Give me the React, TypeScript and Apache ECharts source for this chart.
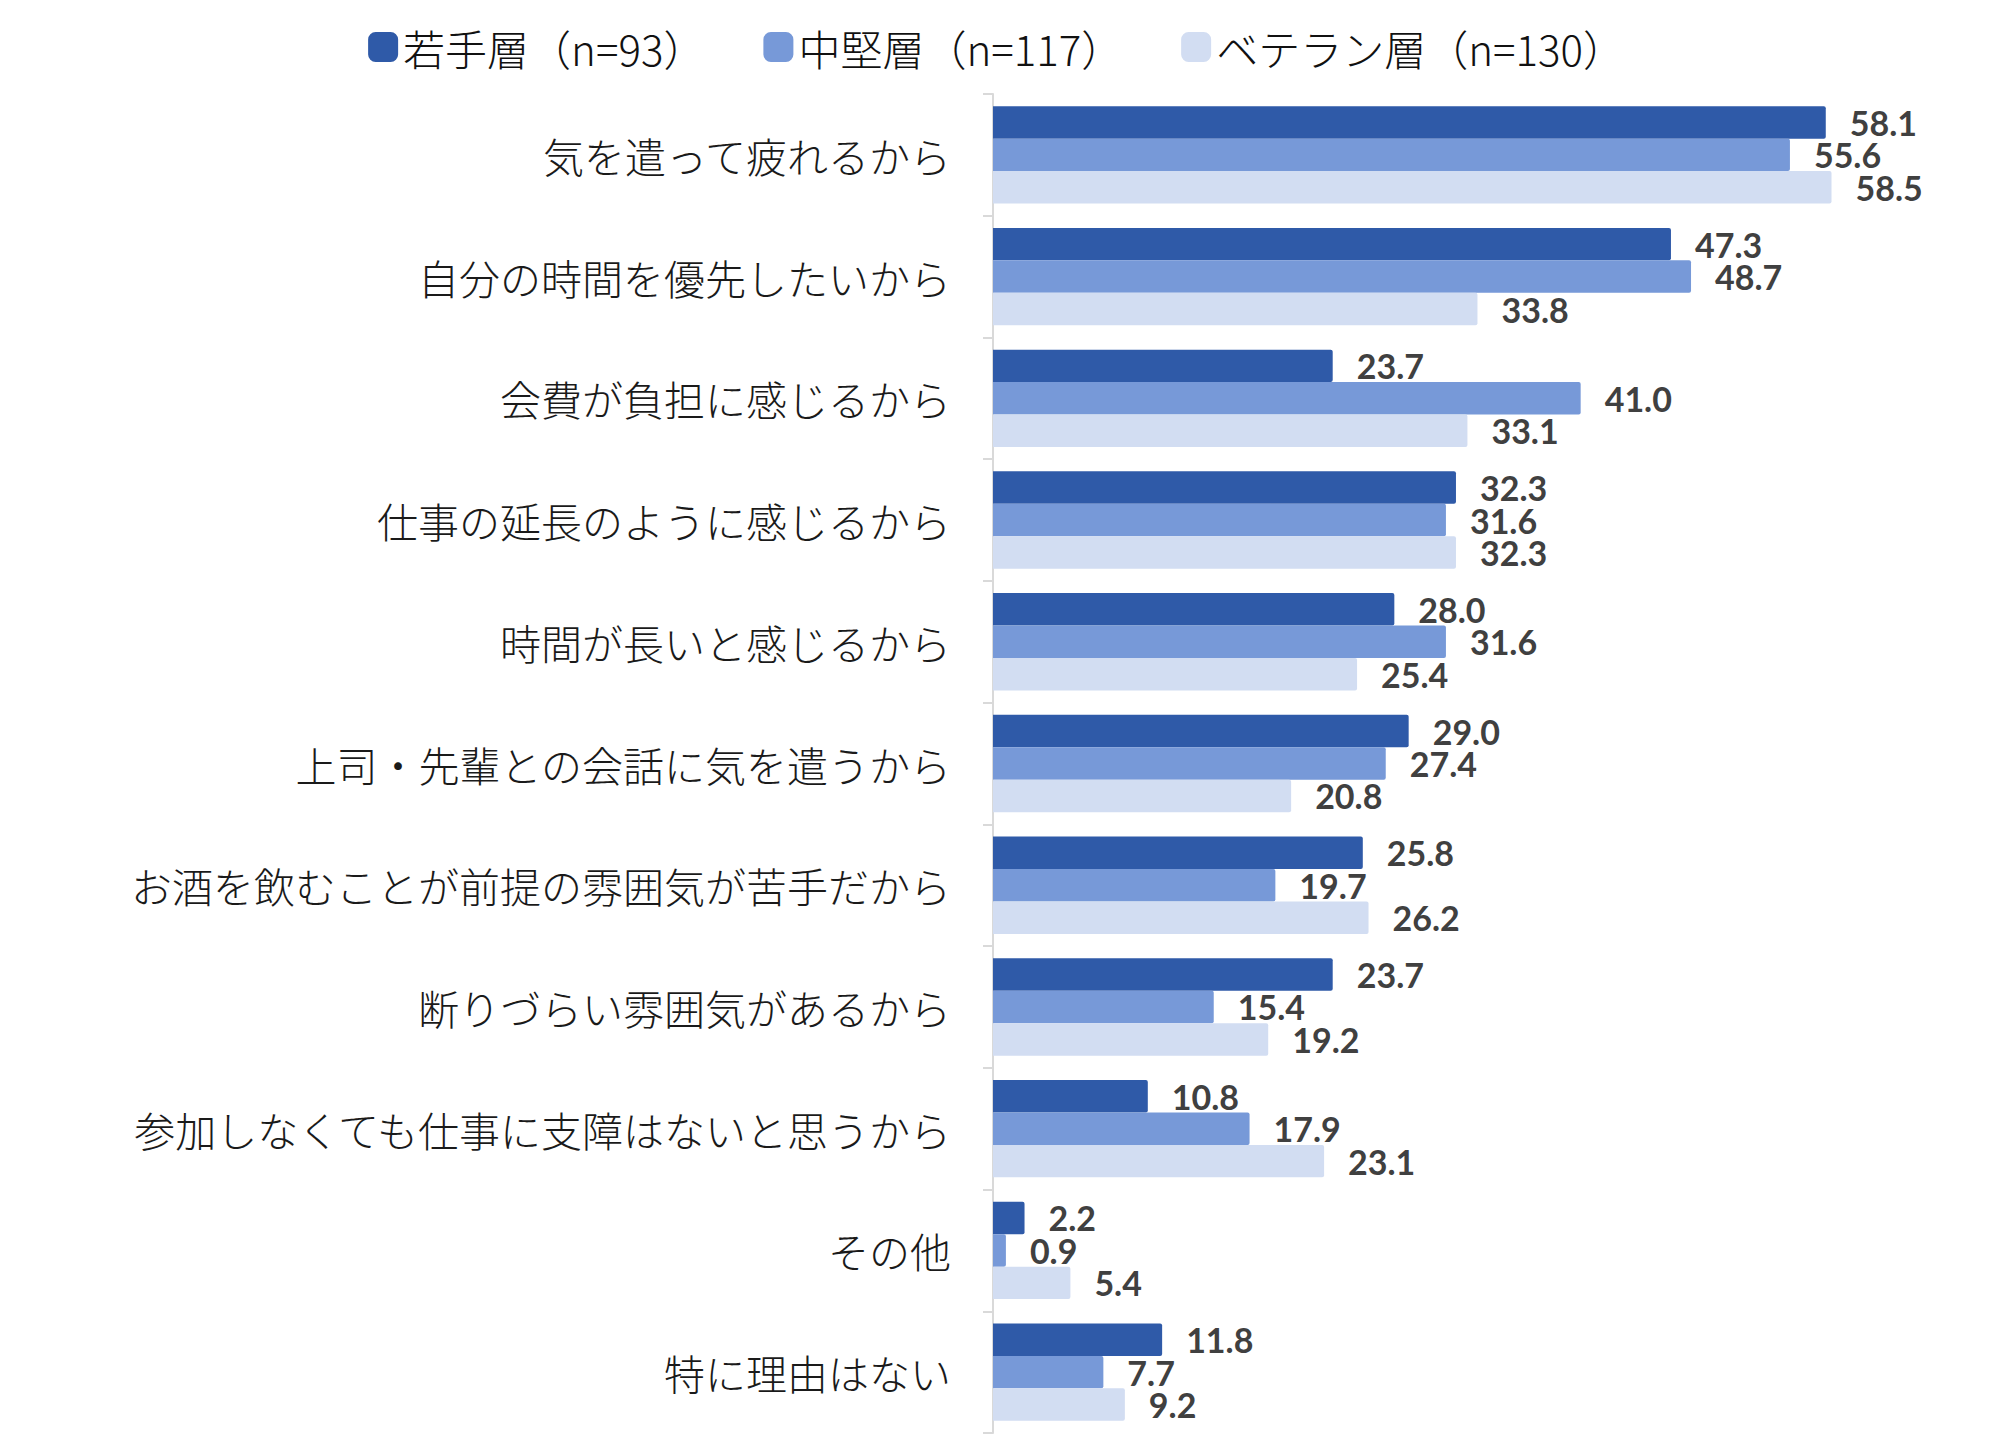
import React, { useEffect, useRef } from "react";
import * as echarts from "echarts";

const categories = [
  "気を遣って疲れるから",
  "自分の時間を優先したいから",
  "会費が負担に感じるから",
  "仕事の延長のように感じるから",
  "時間が長いと感じるから",
  "上司・先輩との会話に気を遣うから",
  "お酒を飲むことが前提の雰囲気が苦手だから",
  "断りづらい雰囲気があるから",
  "参加しなくても仕事に支障はないと思うから",
  "その他",
  "特に理由はない",
];

const seriesNames = ["若手層（n=93）", "中堅層（n=117）", "ベテラン層（n=130）"];

const youngValues = [58.1, 47.3, 23.7, 32.3, 28.0, 29.0, 25.8, 23.7, 10.8, 2.2, 11.8];
const midValues = [55.6, 48.7, 41.0, 31.6, 31.6, 27.4, 19.7, 15.4, 17.9, 0.9, 7.7];
const veteranValues = [58.5, 33.8, 33.1, 32.3, 25.4, 20.8, 26.2, 19.2, 23.1, 5.4, 9.2];

const colors = ["#2F5AA8", "#7799D8", "#D2DDF2"];

export default function App() {
  const ref = useRef<HTMLDivElement>(null);
  useEffect(() => {
    if (!ref.current) return;
    const chart = echarts.init(ref.current, null, { renderer: "svg" });
    const allValues = [youngValues, midValues, veteranValues];
    chart.setOption({
      animation: false,
      backgroundColor: "#ffffff",
      legend: {
        top: 20,
        left: "center",
        itemWidth: 30,
        itemHeight: 30,
        itemGap: 58,
        icon: "roundRect",
        textStyle: {
          fontFamily: "'Noto Sans CJK JP', sans-serif",
          fontSize: 42,
          fontWeight: 300,
          color: "#111111",
          lineHeight: 44,
        },
        data: seriesNames,
      },
      grid: {
        left: 993,
        right: 140,
        top: 94,
        bottom: 2,
        containLabel: false,
      },
      xAxis: {
        type: "value",
        min: 0,
        max: 60,
        show: false,
        splitLine: { show: false },
      },
      yAxis: {
        type: "category",
        inverse: true,
        data: categories,
        axisLine: { show: true, lineStyle: { color: "#D9D9D9", width: 2 } },
        axisTick: { show: true, length: 10, lineStyle: { color: "#D9D9D9", width: 2 } },
        axisLabel: {
          margin: 42,
          fontFamily: "'Noto Sans CJK JP', sans-serif",
          fontSize: 41,
          fontWeight: 300,
          color: "#1a1a1a",
        },
      },
      series: seriesNames.map((name, i) => ({
        name,
        type: "bar",
        data: allValues[i],
        barGap: "0%",
        barCategoryGap: "20%",
        itemStyle: { color: colors[i], borderRadius: [0, 2, 2, 0] },
        label: {
          show: true,
          position: "right",
          distance: 24,
          fontFamily: "Lato, 'Open Sans', sans-serif",
          fontWeight: "bold",
          fontSize: 34,
          lineHeight: 30,
          color: "#404040",
          formatter: (p: any) => Number(p.value).toFixed(1),
        },
      })),
    });
    return () => chart.dispose();
  }, []);
  return (
    <div
      ref={ref}
      style={{ position: "fixed", left: 0, top: 0, width: 1993, height: 1435, background: "#fff" }}
    />
  );
}
